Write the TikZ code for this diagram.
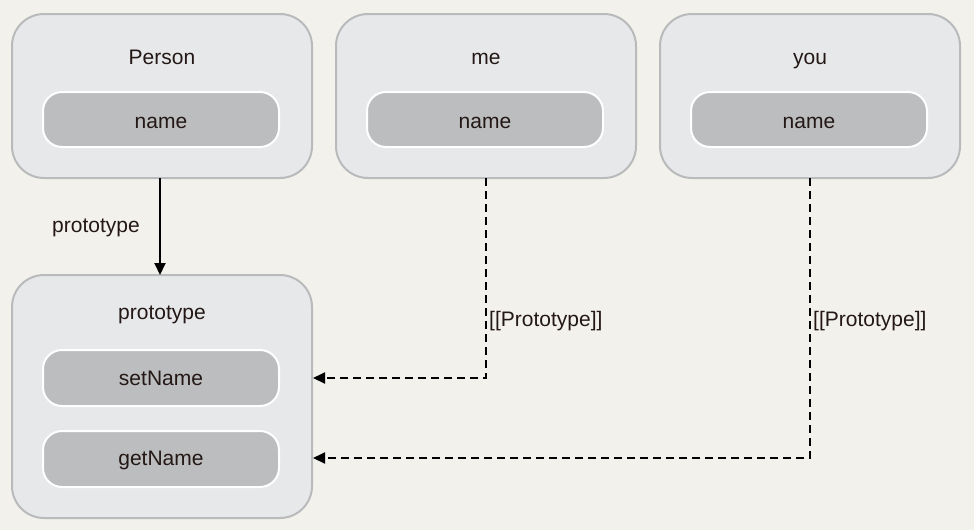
\documentclass[tikz,border=0pt]{standalone}
\usepackage{fontspec}
\setmainfont{Liberation Sans}
\usetikzlibrary{arrows.meta,positioning,calc}
\definecolor{paper}{HTML}{F3F1EC}
\definecolor{outerfill}{HTML}{E7E8EA}
\definecolor{outerline}{HTML}{B9BABC}
\definecolor{innerfill}{HTML}{BCBDBF}
\definecolor{ink}{HTML}{231815}
\begin{document}
\begin{tikzpicture}[x=1pt,y=-1pt,
  every node/.style={font=\fontsize{21}{25}\selectfont, text=ink},
  outerbox/.style={draw=outerline, line width=2pt, fill=outerfill, rounded corners=32pt, minimum width=300pt, inner sep=0pt},
  innerbox/.style={draw=white, line width=2pt, fill=innerfill, rounded corners=19pt, minimum width=236pt, minimum height=55pt, inner sep=0pt},
  txt/.style={inner sep=0pt, anchor=base},
  solidarrow/.style={draw=black, line width=2pt, -{Triangle[length=12pt,width=11pt]}},
  dasharrow/.style={draw=black, line width=2pt, dash pattern=on 8pt off 5pt, -{Triangle[length=12pt,width=11pt]}}
]
\fill[paper] (0,0) rectangle (974,530);
\useasboundingbox (0,0) rectangle (974,530);

% top boxes
\node[outerbox, minimum height=164pt] (person) at (162,96) {};
\node[txt] (personT) at (162,64) {Person};
\node[innerbox] (personN) at (161,119.5) {};
\node[txt] (personNT) at (161,128) {name};

\node[outerbox, minimum height=164pt] (me) at (486,96) {};
\node[txt] (meT) at (486,64) {me};
\node[innerbox] (meN) at (485,119.5) {};
\node[txt] (meNT) at (485,128) {name};

\node[outerbox, minimum height=164pt] (you) at (810,96) {};
\node[txt] (youT) at (810,64) {you};
\node[innerbox] (youN) at (809,119.5) {};
\node[txt] (youNT) at (809,128) {name};

% prototype box
\node[outerbox, minimum height=243pt] (proto) at (162,396.5) {};
\node[txt] (protoT) at (162,319) {prototype};
\node[innerbox, minimum height=56pt] (setN) at (161,378) {};
\node[txt] (setNT) at (161,385) {setName};
\node[innerbox, minimum height=56pt] (getN) at (161,459) {};
\node[txt] (getNT) at (161,465) {getName};

% connectors
\coordinate (pa) at (160,178);
\coordinate (pb) at (160,275);
\draw[solidarrow] (pa) -- (pb);
\node[txt, anchor=base east] (plabel) at (140,232) {prototype};

\coordinate (meD) at (486,178);
\coordinate (setE) at (313,378);
\draw[dasharrow] (meD) |- (setE);
\node[txt, anchor=base west] (l1) at (489,326) {[[Prototype]]};

\coordinate (youD) at (810,178);
\coordinate (getE) at (313,458);
\draw[dasharrow] (youD) |- (getE);
\node[txt, anchor=base west] (l2) at (813,326) {[[Prototype]]};
\end{tikzpicture}
\end{document}
